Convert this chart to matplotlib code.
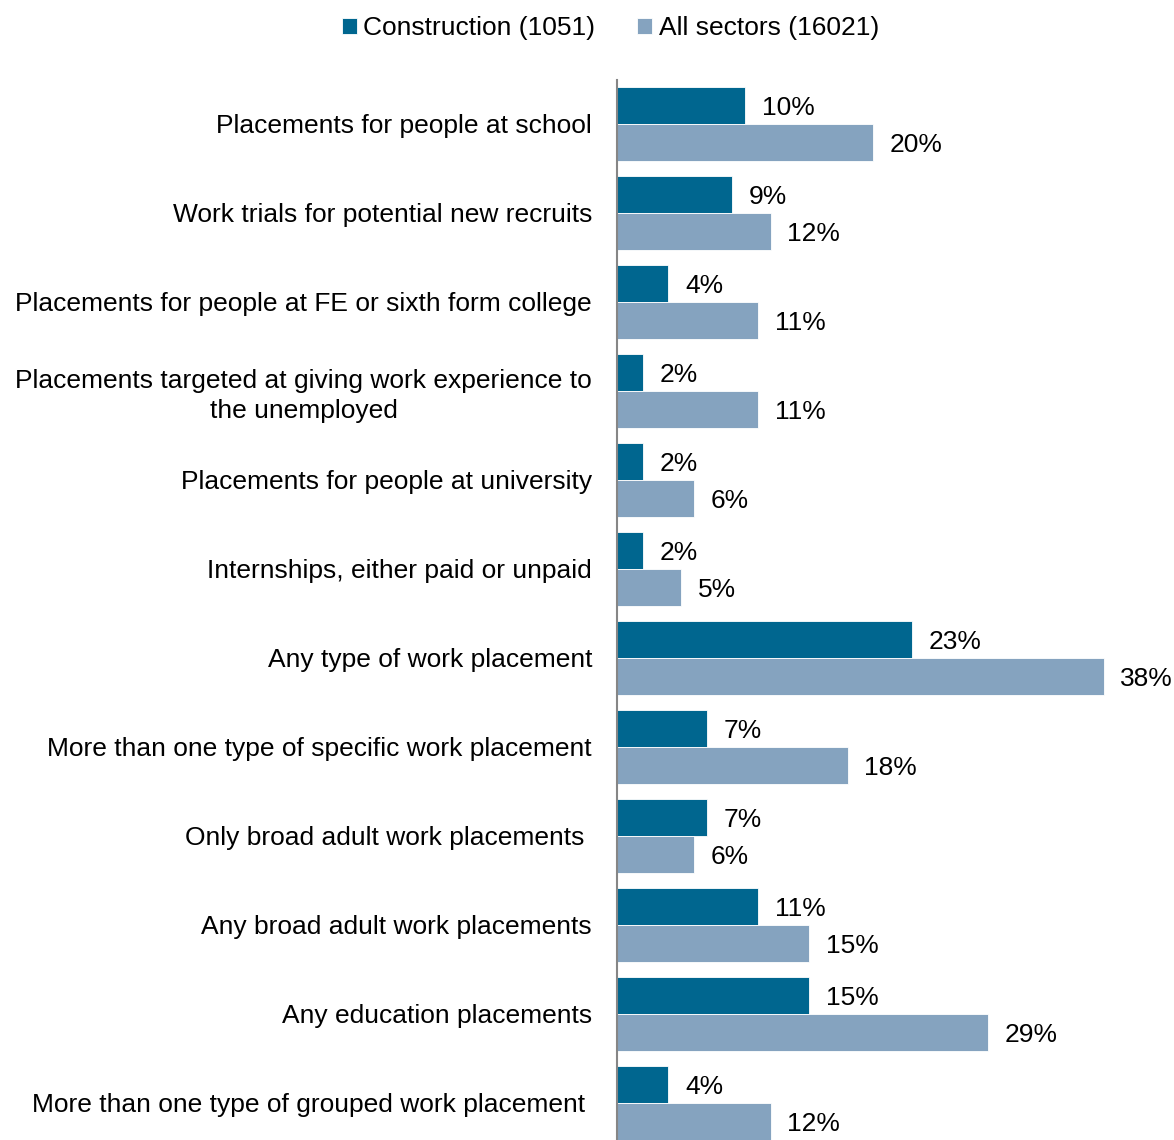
import matplotlib

matplotlib.use("Agg")
import matplotlib.pyplot as plt
import numpy as np

plt.rcParams["font.family"] = ["Liberation Sans", "DejaVu Sans"]

CATEGORIES = [
    "Placements for people at school",
    "Work trials for potential new recruits",
    "Placements for people at FE or sixth form college",
    "Placements targeted at giving work experience to\nthe unemployed",
    "Placements for people at university",
    "Internships, either paid or unpaid",
    "Any type of work placement",
    "More than one type of specific work placement",
    "Only broad adult work placements ",
    "Any broad adult work placements",
    "Any education placements",
    "More than one type of grouped work placement ",
]
CONSTRUCTION = [10, 9, 4, 2, 2, 2, 23, 7, 7, 11, 15, 4]
ALL_SECTORS = [20, 12, 11, 11, 6, 5, 38, 18, 6, 15, 29, 12]
SERIES_LABELS = ["Construction (1051)", "All sectors (16021)"]

DARK = "#00668f"
LIGHT = "#85a3bf"
FONT_SIZE = 19

fig = plt.figure(figsize=(11.74, 11.40), dpi=100)
ax = fig.add_axes([0.5256, 0.0, 0.4744, 0.9298])

y = np.arange(len(CATEGORIES))
h = 0.416
bars_c = ax.barh(y - h / 2, CONSTRUCTION, height=h, color=DARK,
                 edgecolor="white", linewidth=0.6, label=SERIES_LABELS[0])
bars_a = ax.barh(y + h / 2, ALL_SECTORS, height=h, color=LIGHT,
                 edgecolor="white", linewidth=0.6, label=SERIES_LABELS[1])

# value labels just past the end of each bar
for bars, vals in ((bars_c, CONSTRUCTION), (bars_a, ALL_SECTORS)):
    for bar, v in zip(bars, vals):
        ax.annotate(f"{v}%", (v, bar.get_y() + bar.get_height() / 2),
                    xytext=(12, -1.5), textcoords="offset points",
                    ha="left", va="center", fontsize=FONT_SIZE)

ax.set_xlim(0, 43.5)
ax.set_ylim(len(CATEGORIES) - 1 + h, -0.494)
ax.set_yticks(y)
ax.set_yticklabels(CATEGORIES, fontsize=FONT_SIZE, multialignment="center",
                   linespacing=1.3)
ax.tick_params(axis="y", length=0, pad=18)
ax.set_xticks([])
for side in ("top", "right", "bottom"):
    ax.spines[side].set_visible(False)
ax.spines["left"].set_color("#868686")
ax.spines["left"].set_linewidth(1.5)

fig.legend(handles=[bars_c, bars_a], labels=SERIES_LABELS, loc="center",
           bbox_to_anchor=(0.52, 0.975), ncol=2, frameon=False,
           fontsize=FONT_SIZE, handlelength=0.55, handleheight=0.55,
           handletextpad=0.25, columnspacing=1.6)

fig.savefig("out.png", dpi=100)
